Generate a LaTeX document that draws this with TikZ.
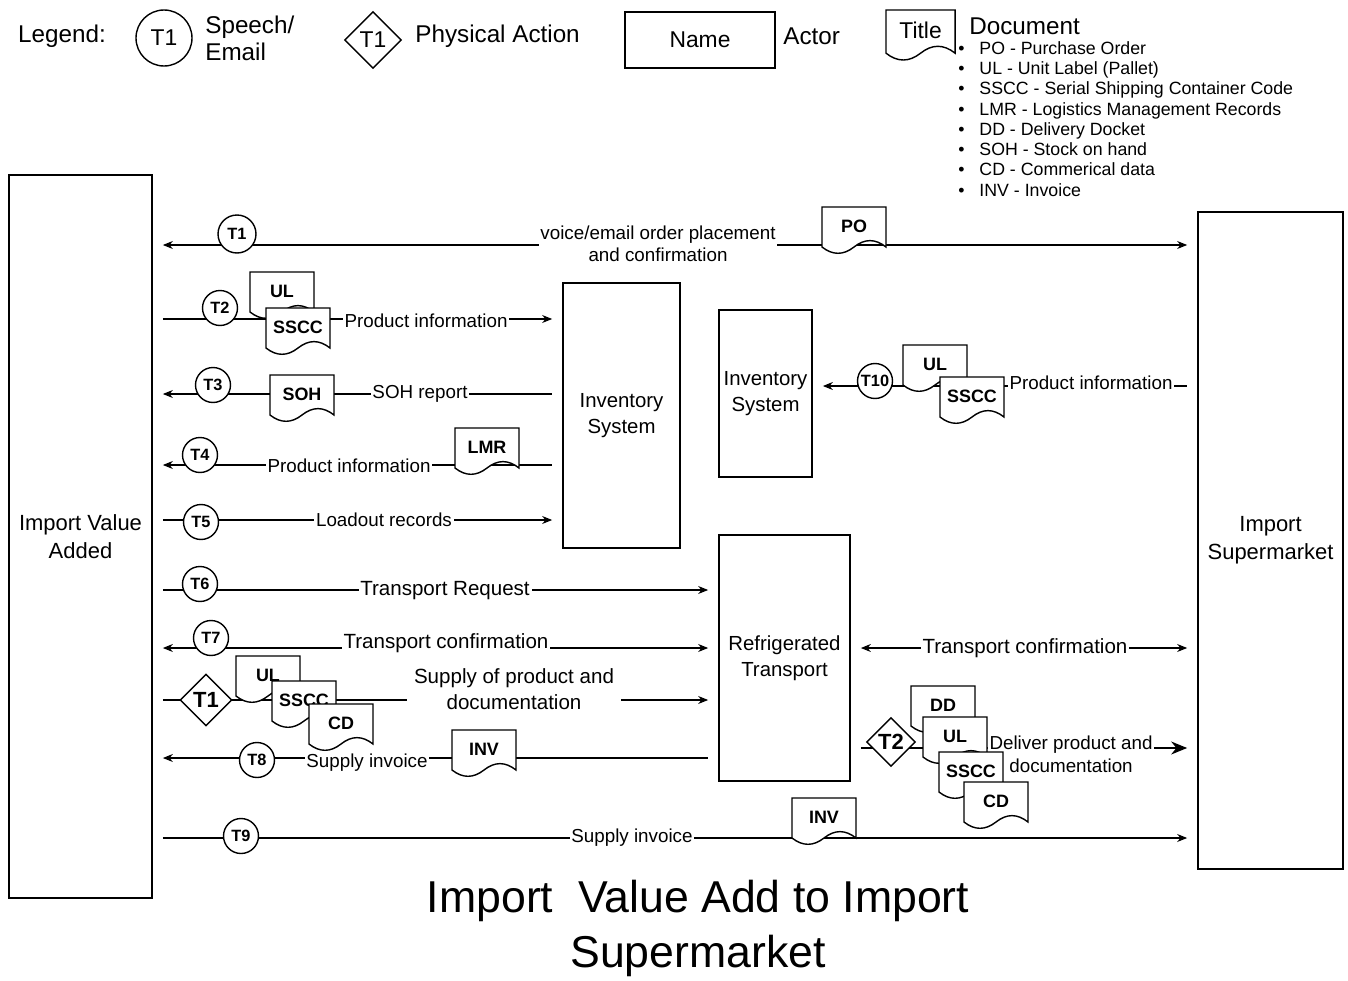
\documentclass[tikz,border=0pt]{standalone}
\usepackage{fontspec}
\setmainfont{Liberation Sans}
\usetikzlibrary{shapes.geometric,arrows.meta,positioning,calc}

\newcommand{\lbul}{\makebox[12pt][l]{\textbullet}}
\newcommand{\docnode}[4][1]{%
  \begin{scope}[shift={(#3)},scale=#1]
    \draw[docline] (0,0) -- (64,0) -- (64,40) .. controls (53.3,31.5) and (42.7,31.5) .. (32,40)
      .. controls (21.3,48.4) and (10.7,48.4) .. (0,40) -- cycle;
    \node[doctext] (#2) at (32,19) {#4};
  \end{scope}}

\begin{document}
\begin{tikzpicture}[x=0.02cm, y=-0.02cm,
  >={Stealth[length=2mm,width=1.6mm]},
  actor/.style={draw, line width=1pt, inner sep=2pt, align=center, font=\fontsize{11.6}{14.8}\selectfont},
  tcirc/.style={circle, draw, fill=white, line width=0.8pt, minimum size=0.7cm, inner sep=0pt, font=\bfseries\fontsize{9.3}{10}\selectfont},
  tdiam/.style={diamond, draw, fill=white, line width=0.8pt, minimum size=1.04cm, inner sep=0pt, font=\bfseries\fontsize{12.5}{13}\selectfont},
  docline/.style={draw, fill=white, line width=0.8pt},
  doctext/.style={font=\bfseries\fontsize{10.2}{12}\selectfont, inner sep=0pt},
  conn/.style={line width=0.7pt, shorten <=2mm, shorten >=2mm},
  lbl/.style={fill=white, inner sep=1pt, align=center, font=\fontsize{10.7}{12.5}\selectfont},
  biglbl/.style={lbl, font=\fontsize{11.7}{14.8}\selectfont},
  legend/.style={font=\fontsize{13.8}{15.4}\selectfont, align=left}
]
\useasboundingbox (0,0) rectangle (1348,980);

\node[legend] (leg) at (62,36) {Legend:};
\node[tcirc, minimum size=1.12cm, font=\fontsize{13}{14}\selectfont] (legc) at (164,38) {T1};
\node[legend, anchor=west, inner sep=0pt] (legct) at (205,38) {Speech/\\Email};
\node[tdiam, minimum size=1.14cm, font=\fontsize{13}{14}\selectfont] (legd) at (373,40) {T1};
\node[legend, anchor=west, inner sep=0pt] (legdt) at (415,36) {Physical Action};
\node[actor, minimum width=3cm, minimum height=1.12cm, font=\fontsize{13}{15}\selectfont] (legn) at (700,40) {Name};
\node[legend, anchor=west, inner sep=0pt] (legnt) at (783,36) {Actor};
\docnode[1.08]{legdoc}{886,10}{\mdseries\fontsize{13}{15}\selectfont Title}
\node[legend, anchor=west, inner sep=0pt] (legdt2) at (969,26) {Document};
\node[anchor=north west, inner sep=0pt, align=left, font=\fontsize{10.1}{11.55}\selectfont] (list) at (958,41) {%
  \lbul PO - Purchase Order\\
  \lbul UL - Unit Label (Pallet)\\
  \lbul SSCC - Serial Shipping Container Code\\
  \lbul LMR - Logistics Management Records\\
  \lbul DD - Delivery Docket\\
  \lbul SOH - Stock on hand\\
  \lbul CD - Commerical data\\
  \lbul INV - Invoice};

\node[actor, minimum width=2.86cm, minimum height=14.46cm, font=\fontsize{12.5}{16}\selectfont] (iva) at (80.5,536.5) {Import Value\\Added};
\node[actor, minimum width=2.9cm, minimum height=13.14cm, font=\fontsize{12.5}{16}\selectfont] (ism) at (1270.5,540.5) {Import\\Supermarket};
\node[actor, minimum width=2.34cm, minimum height=5.3cm] (inv1) at (621.5,415.5) {Inventory\\System};
\node[actor, minimum width=1.86cm, minimum height=3.34cm] (inv2) at (765.5,393.5) {Inventory\\System};
\node[actor, minimum width=2.62cm, minimum height=4.92cm] (rt) at (784.5,658) {Refrigerated\\Transport};

\coordinate (r1) at (0,245);
\coordinate (r2) at (0,319);
\coordinate (r3) at (0,394);
\coordinate (r4) at (0,465);
\coordinate (r5) at (0,520);
\coordinate (r10) at (0,386);
\coordinate (r6) at (0,590);
\coordinate (r7) at (0,648);
\coordinate (rd1) at (0,700);
\coordinate (r8) at (0,758);
\coordinate (rd2) at (0,748);
\coordinate (r9) at (0,838);

\draw[conn, <->] (iva.east |- r1) -- (ism.west |- r1);
\draw[conn, ->] (iva.east |- r2) -- (inv1.west |- r2);
\draw[conn, <-] (iva.east |- r3) -- (inv1.west |- r3);
\draw[conn, <-] (iva.east |- r4) -- (inv1.west |- r4);
\draw[conn, ->] (iva.east |- r5) -- (inv1.west |- r5);
\draw[conn, <-] (inv2.east |- r10) -- (ism.west |- r10);
\draw[conn, ->] (iva.east |- r6) -- (rt.west |- r6);
\draw[conn, <->] (iva.east |- r7) -- (rt.west |- r7);
\draw[conn, ->] (iva.east |- rd1) -- (rt.west |- rd1);
\draw[conn, <-] (iva.east |- r8) -- (rt.west |- r8);
\draw[conn, <->] (rt.east |- r7) -- (ism.west |- r7);
\draw[conn, -{Stealth[length=3.2mm,width=2.6mm]}] (rt.east |- rd2) -- (ism.west |- rd2);
\draw[conn, ->] (iva.east |- r9) -- (ism.west |- r9);

\node[lbl] (l1) at (658,244) {voice/email order placement\\and confirmation};
\node[lbl] (l2) at (426,321) {Product information};
\node[lbl] (l3) at (420,394) {SOH report};
\node[lbl] (l4) at (349,466) {Product information};
\node[lbl] (l5) at (384,520) {Loadout records};
\node[lbl] (l10) at (1091,383) {Product information};
\node[biglbl] (l6) at (445,591) {Transport Request};
\node[biglbl] (l7) at (446,643) {Transport confirmation};
\node[biglbl, inner xsep=4pt] (ld1) at (514,689) {Supply of product and\\documentation};
\node[lbl] (l8) at (367,763) {Supply invoice};
\node[biglbl] (l7b) at (1025,648) {Transport confirmation};
\node[lbl, font=\fontsize{10.7}{13}\selectfont] (ld2) at (1071,754) {Deliver product and\\documentation};
\node[lbl] (l9) at (632,838) {Supply invoice};

\docnode{po}{822,207}{PO}
\docnode{ul2}{250,272}{UL}
\docnode{sscc2}{266,308}{SSCC}
\docnode{soh}{270,375}{SOH}
\docnode{lmr}{455,428}{LMR}
\docnode{ul10}{903,345}{UL}
\docnode{sscc10}{940,377}{SSCC}
\docnode{ulp}{236,656}{UL}
\docnode{ssccp}{272,681}{SSCC}
\docnode{cdp}{309,704}{CD}
\docnode{inv8}{452,730}{INV}
\docnode{dd}{911,686}{DD}
\docnode{uld}{923,717}{UL}
\docnode{ssccd}{939,752}{SSCC}
\docnode{cdd}{964,782}{CD}
\docnode{inv9}{792,798}{INV}

\node[tcirc, minimum size=0.76cm] (t1) at (237,234) {T1};
\node[tcirc] (t2) at (220,308) {T2};
\node[tcirc] (t3) at (213,385) {T3};
\node[tcirc] (t4) at (200,455) {T4};
\node[tcirc] (t5) at (201,522) {T5};
\node[tcirc] (t10) at (875,381) {T10};
\node[tcirc] (t6) at (200,584) {T6};
\node[tcirc] (t7) at (211,638) {T7};
\node[tcirc] (t8) at (257,760) {T8};
\node[tcirc] (t9) at (241,836) {T9};
\node[tdiam] (d1) at (206,700) {T1};
\node[tdiam, minimum size=0.98cm] (d2) at (891,742) {T2};

\node[font=\fontsize{25.4}{31.3}\selectfont, align=center] (title) at (698,928) {Import~ Value Add to Import\\Supermarket};
\end{tikzpicture}
\end{document}
